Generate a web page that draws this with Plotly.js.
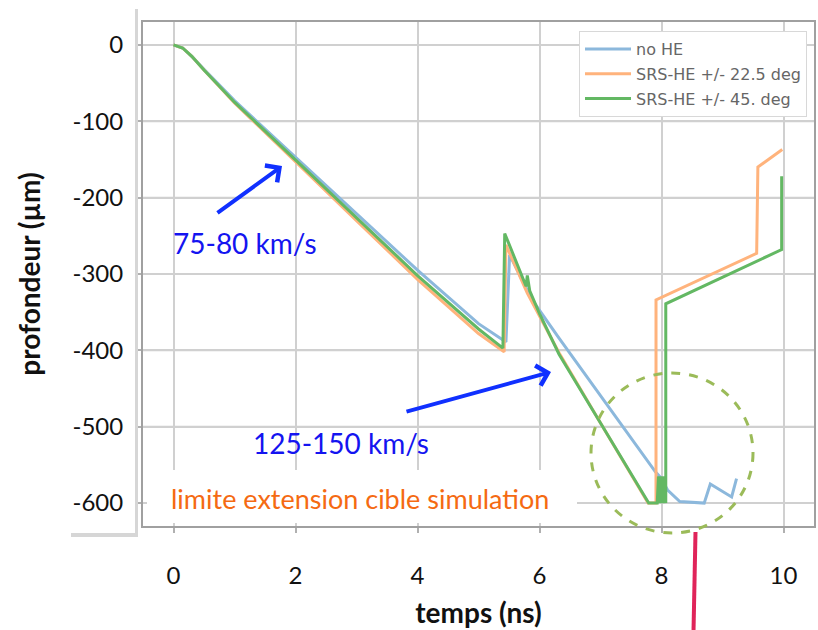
<!DOCTYPE html>
<html>
<head>
<meta charset="utf-8">
<script src="https://cdn.plot.ly/plotly-3.0.1.min.js"></script>
<style>html,body{margin:0;padding:0;background:#fff;}#chart{width:818px;height:630px;}</style>
</head>
<body>
<div id="chart"></div>
<script>
// ---- data ----
const seriesNames = ['no HE', 'SRS-HE +/- 22.5 deg', 'SRS-HE +/- 45. deg'];

const timeNoHE  = [0, 0.15, 0.3, 0.5, 1.0, 1.5, 2.0, 3.0, 4.0, 5.0, 5.45, 5.51, 5.88, 6.32, 7.0, 7.9, 7.98, 8.1, 8.3, 8.7, 8.8, 9.15, 9.23];
const depthNoHE = [0, -4, -15, -32, -73, -110, -146, -220, -295, -365, -389, -275, -334, -384, -460, -559, -566, -583, -598, -600, -575, -592, -568];

const timeSrs22  = [0, 0.15, 0.3, 0.5, 1.0, 1.5, 2.0, 3.0, 4.0, 5.0, 5.42, 5.45, 5.80, 6.0, 6.32, 7.0, 7.78, 7.91, 7.91, 9.56, 9.58, 9.98];
const depthSrs22 = [0, -4, -15, -33, -76, -115, -153, -230, -307, -378, -402, -262, -325, -355, -403, -495, -600, -600, -334, -273, -160, -137];

const timeSrs45  = [0, 0.15, 0.3, 0.5, 1.0, 1.5, 2.0, 3.0, 4.0, 5.0, 5.40, 5.43, 5.78, 5.80, 5.84, 6.0, 6.32, 7.0, 7.79, 7.93, 7.95, 7.98, 8.0, 8.03, 8.05, 8.07, 8.07, 9.97, 9.97];
const depthSrs45 = [0, -4, -15, -33, -75, -113, -150, -226, -302, -372, -397, -247, -316, -302, -322, -352, -405, -495, -600, -600, -565, -600, -565, -600, -565, -600, -339, -268, -172];

const xTickVals = [0, 2, 4, 6, 8, 10];
const xTickText = ['0', '2', '4', '6', '8', '10'];
const yTickVals = [0, -100, -200, -300, -400, -500, -600];
const yTickText = ['0', '-100', '-200', '-300', '-400', '-500', '-600'];
const xRange = [-0.5, 10.5];
const yRange = [-630, 30];

const xTitle = 'temps (ns)';
const yTitle = 'profondeur (µm)';
const noteSlow = '75-80 km/s';
const noteFast = '125-150 km/s';
const noteLimit = 'limite extension cible simulation';

// ---- layout geometry ----
const W = 818, H = 630;
const M = {l: 143, r: 4, t: 22, b: 104};
const PW = W - M.l - M.r, PH = H - M.t - M.b;
const px = v => (v - M.l) / PW;          // pixel x -> paper x
const py = v => (H - M.b - v) / PH;      // pixel y -> paper y

const colors = ['#8cb8dc', '#ffb37c', '#63b863'];
const gridColor = '#d0d0d0';

// horizontal grid lines at the y tick values, as a background trace
const gridX = [], gridY = [];
yTickVals.forEach(v => { gridX.push(xRange[0], xRange[1], null); gridY.push(v, v, null); });
const gridTrace = {
  x: gridX, y: gridY, type: 'scatter', mode: 'lines',
  line: {color: gridColor, width: 2}, showlegend: false, hoverinfo: 'skip'
};

const traces = [gridTrace].concat([
  {x: timeNoHE, y: depthNoHE, name: seriesNames[0], legendgroup: 'a'},
  {x: timeSrs22, y: depthSrs22, name: seriesNames[1], legendgroup: 'b'},
  {x: timeSrs45, y: depthSrs45, name: seriesNames[2], legendgroup: 'c'}
].map((t, i) => Object.assign(t, {
  type: 'scatter', mode: 'lines',
  line: {color: colors[i], width: 3}
})));

const tickFont = {family: 'Lato, "Open Sans", sans-serif', size: 24, color: '#111'};
const titleFont = {family: 'Lato, "Open Sans", sans-serif', size: 28, color: '#111', weight: 'bold'};
const noteFont = {family: 'Lato, "Open Sans", sans-serif', size: 28, color: '#1414f0'};

const layout = {
  width: W, height: H,
  margin: M,
  paper_bgcolor: '#ffffff',
  plot_bgcolor: '#ffffff',
  showlegend: true,
  legend: {
    x: px(807), y: py(31), xanchor: 'right', yanchor: 'top',
    bgcolor: '#ffffff', bordercolor: '#d8d8d8', borderwidth: 1,
    font: {family: '"DejaVu Sans", sans-serif', size: 16, color: '#666'},
    itemwidth: 46,
    tracegroupgap: 1
  },
  xaxis: {
    range: xRange,
    tickvals: xTickVals, ticktext: xTickText,
    showgrid: true, gridcolor: gridColor, gridwidth: 2,
    zeroline: false,
    showline: true, mirror: true, linecolor: '#a0a0a0', linewidth: 2,
    ticks: 'outside', ticklen: 5, tickwidth: 2, tickcolor: '#b0b0b0',
    ticklabelstandoff: 22,
    tickfont: tickFont,
    title: {text: xTitle, font: titleFont, standoff: 16}
  },
  yaxis: {
    range: yRange,
    tickvals: yTickVals, ticktext: yTickText,
    showgrid: true, gridcolor: gridColor, gridwidth: 2,
    zeroline: false,
    showline: true, mirror: true, linecolor: '#a0a0a0', linewidth: 2,
    ticks: 'outside', ticklen: 5, tickwidth: 2, tickcolor: '#b0b0b0',
    ticklabelstandoff: 8,
    tickfont: tickFont,
    title: {text: yTitle, font: titleFont, standoff: 24}
  },
  shapes: [
    // shadow edges of the white panel behind the y tick labels
    {type: 'rect', xref: 'paper', yref: 'paper', layer: 'above',
     x0: px(135), x1: px(138), y0: py(9), y1: py(537),
     fillcolor: '#d6d6d6', line: {width: 0}},
    {type: 'rect', xref: 'paper', yref: 'paper', layer: 'above',
     x0: px(71), x1: px(138), y0: py(533), y1: py(537),
     fillcolor: '#d6d6d6', line: {width: 0}},
    // white label box at the bottom of the plot
    {type: 'rect', xref: 'paper', yref: 'paper', layer: 'above',
     x0: px(147), x1: px(577), y0: py(470), y1: py(523),
     fillcolor: '#ffffff', line: {width: 0}},
    // dashed circle
    {type: 'circle', xref: 'paper', yref: 'paper', layer: 'above',
     x0: px(591), x1: px(753), y0: py(533), y1: py(373),
     line: {color: '#9bbb59', width: 3, dash: 'dash'}},
    // red line
    {type: 'line', xref: 'paper', yref: 'paper', layer: 'above',
     x0: px(695.5), x1: px(693.5), y0: py(532), y1: py(632),
     line: {color: '#e0245a', width: 4}}
  ],
  annotations: [
    {xref: 'paper', yref: 'paper', x: px(171), y: py(243), xanchor: 'left', yanchor: 'middle',
     text: noteSlow, showarrow: false, font: noteFont},
    {xref: 'paper', yref: 'paper', x: px(251), y: py(443), xanchor: 'left', yanchor: 'middle',
     text: noteFast, showarrow: false, font: noteFont},
    {xref: 'paper', yref: 'paper', x: px(169), y: py(498), xanchor: 'left', yanchor: 'middle',
     text: noteLimit, showarrow: false,
     font: {family: 'Lato, "Open Sans", sans-serif', size: 27, color: '#f56a12'}},
    {xref: 'paper', yref: 'paper', x: px(282), y: py(166), text: '',
     showarrow: true, ax: -66, ay: 48, arrowhead: 4, arrowsize: 1, arrowwidth: 4,
     arrowcolor: '#1030ff', standoff: 0, startstandoff: 0},
    {xref: 'paper', yref: 'paper', x: px(551), y: py(372), text: '',
     showarrow: true, ax: -146, ay: 40, arrowhead: 4, arrowsize: 1, arrowwidth: 4,
     arrowcolor: '#1030ff', standoff: 0, startstandoff: 0}
  ]
};

Plotly.newPlot('chart', traces, layout, {displayModeBar: false, staticPlot: true});
</script>
</body>
</html>
